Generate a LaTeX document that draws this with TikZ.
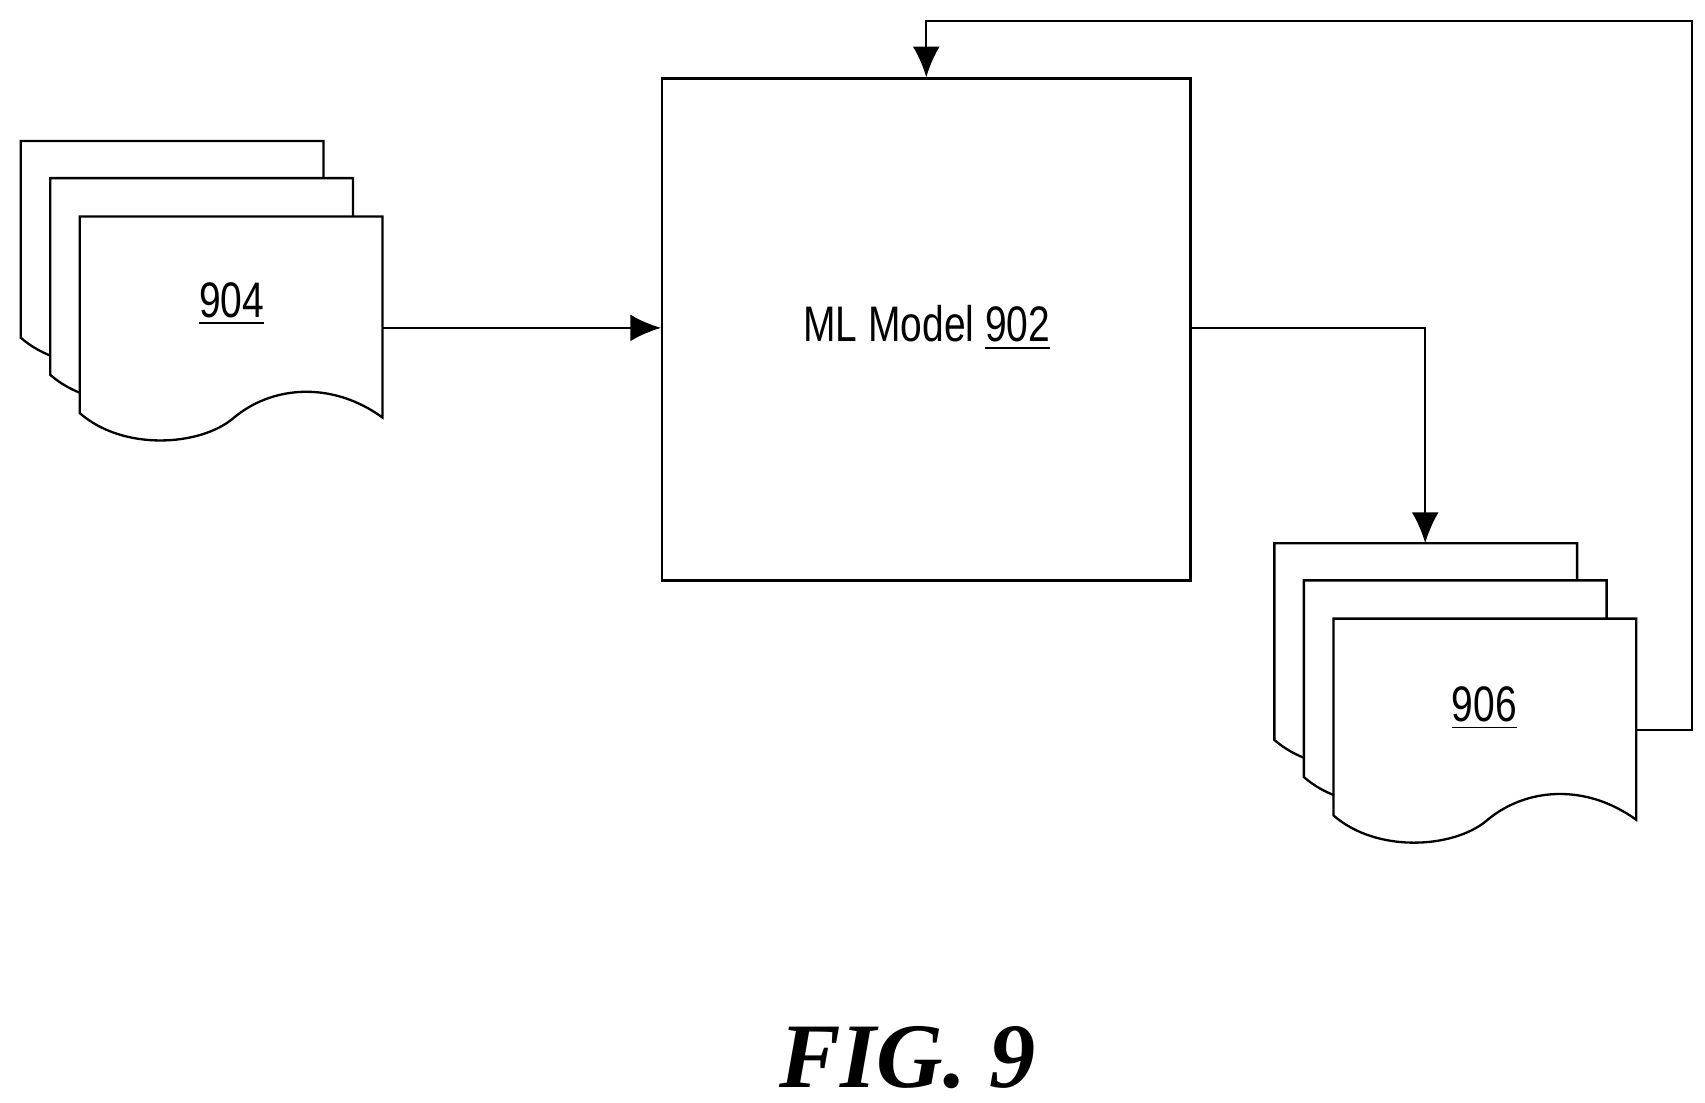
\documentclass[tikz,border=0pt]{standalone}
\usepackage{fontspec}
\setmainfont{Liberation Sans}
\newfontfamily\figfont{Liberation Serif}
\begin{document}
\begin{tikzpicture}[x=0.01cm,y=-0.01cm,line width=0.6pt,
  page/.style={draw=black,fill=white},
  lbl/.style={font=\fontsize{13}{15}\selectfont,xscale=0.78,inner sep=0pt},
  conn/.style={draw=black,-{Latex[length=8pt,width=7pt]}},
  pics/docstack/.style={code={
    \foreach \dx/\dy in {-54/-69,-27/-35,0/0}{
      \path[page] (\dx,\dy) -- ++(277,0) -- ++(0,184) .. controls ++(-47,-34) and ++(35,-30) .. ++(-137,1)
        .. controls ++(-30,25) and ++(40,35) .. ++(-140,-5) -- cycle;
    }
  }}]
\usetikzlibrary{arrows.meta}
\useasboundingbox (0,0) rectangle (1560,1009);
% document stacks
\pic at (73,198) {docstack};
\pic at (1220,566) {docstack};
\node[lbl] (t904) at (212,278) {\underline{904}};
\node[lbl] (t906) at (1358,648) {\underline{906}};
\coordinate (d904out) at (350,300);
\coordinate (d906in) at (1304,497);
\coordinate (d906out) at (1497,668);
% model
\node[draw,minimum width=4.83cm,minimum height=4.59cm,inner sep=0pt] (model) at (847.5,301.5) {};
\node[lbl] (mtext) at (848,300) {ML Model \underline{902}};
% connectors
\draw[conn] (d904out) -- (model.west |- d904out);
\draw[conn] (model.east |- d904out) -| (d906in);
\coordinate (fb1) at (1548,668);
\coordinate (fb2) at (1548,19);
\draw[conn] (d906out) -- (fb1) -- (fb2) -| (model.north);
\node[font=\figfont\bfseries\itshape\fontsize{24}{28}\selectfont] (fig) at (830,968) {FIG. 9};
\end{tikzpicture}
\end{document}
